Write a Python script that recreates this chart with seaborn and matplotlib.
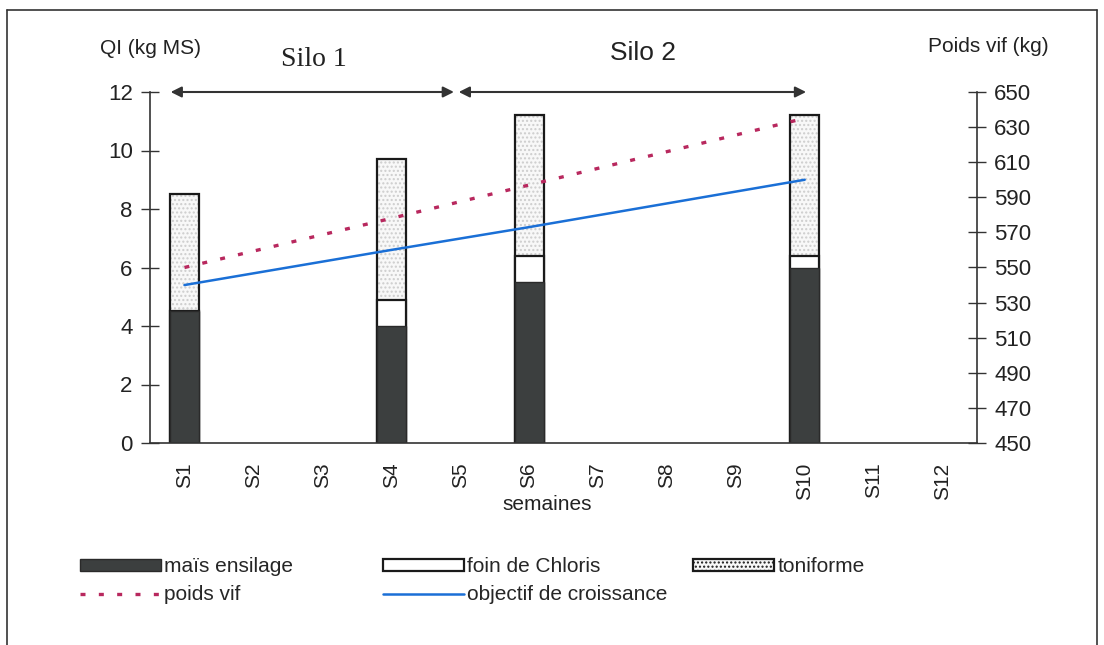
import matplotlib
matplotlib.use("Agg")
import matplotlib.pyplot as plt
import seaborn as sns
import numpy as np
import pandas as pd
from matplotlib.patches import Patch
from matplotlib.lines import Line2D
from matplotlib.legend_handler import HandlerBase

sns.set_theme(style="white")
plt.rcParams['font.family'] = ['Liberation Sans', 'DejaVu Sans']

weeks = ["S1", "S2", "S3", "S4", "S5", "S6", "S7", "S8", "S9", "S10", "S11", "S12"]
mais = [4.5, 0, 0, 4.0, 0, 5.5, 0, 0, 0, 6.0, 0, 0]
foin = [0, 0, 0, 0.9, 0, 0.9, 0, 0, 0, 0.4, 0, 0]
toniforme = [4.0, 0, 0, 4.8, 0, 4.8, 0, 0, 0, 4.8, 0, 0]
poids_weeks = ["S1", "S4", "S6", "S10"]
poids_vif = [550, 578, 597, 635]
objectif = [540, 560, 573, 600]
left_ticks = [0, 2, 4, 6, 8, 10, 12]
right_ticks = [450, 470, 490, 510, 530, 550, 570, 590, 610, 630, 650]

FS = 15
FT = 16
DARK = "#3c3f3f"
HATCH_GREY = "#cdcdcd"
fig = plt.figure(figsize=(11.04, 6.45), dpi=100)
ax = fig.add_axes([150/1104, 1-443/645, (977-150)/1104, (443-92)/645])

df = pd.DataFrame({"week": weeks, "mais": mais, "foin": foin, "toniforme": toniforme})
df["b1"] = df["mais"]
df["b2"] = df["mais"] + df["foin"]
df["b3"] = df["b2"] + df["toniforme"]

W = 0.42
# toniforme: light dotted fill (hatch drawn in light grey via edge colour), then black outline
sns.barplot(data=df, x="week", y="b3", ax=ax, color="#f8f8f8", width=W,
            edgecolor=HATCH_GREY, linewidth=0, hatch="....", saturation=1)
sns.barplot(data=df, x="week", y="b3", ax=ax, color="#1a1a1a", width=W,
            fill=False, linewidth=1.6)
sns.barplot(data=df, x="week", y="b2", ax=ax, color="white", width=W,
            edgecolor="#1a1a1a", linewidth=1.6, saturation=1)
sns.barplot(data=df, x="week", y="b1", ax=ax, color=DARK, width=W,
            edgecolor="#2a2a2a", linewidth=1.0, saturation=1)
for p in ax.patches:
    if p.get_height() == 0:
        p.set_visible(False)

ax.set_xlim(-0.5, 11.5)
ax.set_ylim(0, 12)
ax.set_yticks(left_ticks)
ax.set_yticklabels([str(t) for t in left_ticks], fontsize=FT)
ax.set_xticks(range(len(weeks)))
ax.set_xticklabels(weeks, rotation=90, fontsize=FS)
ax.set_xticks(np.arange(-0.5, 12, 1), minor=True)
ax.tick_params(axis="x", which="major", length=0, pad=14, colors="#222222")
ax.tick_params(axis="x", which="minor", length=12, direction="inout", width=1, color="#333333")
ax.tick_params(axis="y", length=13, direction="inout", width=1, color="#333333", pad=6, colors="#222222")
ax.set_xlabel("")
ax.set_ylabel("")
for s in ["top", "right"]:
    ax.spines[s].set_visible(False)
for s in ["left", "bottom"]:
    ax.spines[s].set_color("#333333")
    ax.spines[s].set_linewidth(1.2)
ax.grid(False)

ax2 = ax.twinx()
ax2.set_ylim(450, 650)
ax2.set_yticks(right_ticks)
ax2.set_yticklabels([str(t) for t in right_ticks], fontsize=FT)
ax2.tick_params(axis="y", length=13, direction="inout", width=1, color="#333333", pad=6, colors="#222222")
for s in ["top", "left", "bottom"]:
    ax2.spines[s].set_visible(False)
ax2.spines["right"].set_color("#333333")
ax2.spines["right"].set_linewidth(1.2)
ax2.grid(False)

pos = {w: i for i, w in enumerate(weeks)}
ldf = pd.DataFrame({"x": [pos[w] for w in poids_weeks], "poids": poids_vif, "obj": objectif})
sns.lineplot(data=ldf, x="x", y="poids", ax=ax2, color="#b8285e", linewidth=2.4,
             linestyle=(0, (1.5, 4)))
sns.lineplot(data=ldf, x="x", y="obj", ax=ax2, color="#1a6fd6", linewidth=1.8)
ax2.set_xlabel("")
ax2.set_ylabel("")
ax2.set_xlim(-0.5, 11.5)

# Silo arrows
arrow_kw = dict(arrowstyle="<|-|>", color="#333333", lw=1.5, mutation_scale=16,
                shrinkA=0, shrinkB=0)
ax.annotate("", xy=(-0.2, 12), xytext=(3.91, 12), xycoords="data",
            arrowprops=arrow_kw, annotation_clip=False)
ax.annotate("", xy=(3.98, 12), xytext=(9.02, 12), xycoords="data",
            arrowprops=arrow_kw, annotation_clip=False)
ax.text(1.88, 1.093, "Silo 1", transform=ax.get_xaxis_transform(), ha="center", va="center",
        fontsize=20, family=["Liberation Serif", "DejaVu Serif"], color="#222222")
ax.text(6.66, 1.11, "Silo 2", transform=ax.get_xaxis_transform(), ha="center", va="center",
        fontsize=19, color="#222222")

fig.text(150/1104, 1-48/645, "QI (kg MS)", ha="center", va="center", fontsize=FS, color="#222222")
fig.text(988/1104, 1-47/645, "Poids vif (kg)", ha="center", va="center", fontsize=FS, color="#222222")
fig.text(547/1104, 1-505/645, "semaines", ha="center", va="center", fontsize=FS, color="#222222")

# legends
h_mais = Patch(facecolor=DARK, edgecolor="#2a2a2a", label="maïs ensilage")
h_poids = Line2D([], [], color="#b8285e", lw=2.4, linestyle=(0, (1.5, 4)), label="poids vif")
h_foin = Patch(facecolor="white", edgecolor="#1a1a1a", linewidth=1.6, label="foin de Chloris")
h_obj = Line2D([], [], color="#1a6fd6", lw=1.8, label="objectif de croissance")
h_ton = Patch(facecolor="#f8f8f8", edgecolor="#1a1a1a", linewidth=1.6, hatch="....", label="toniforme")
leg_kw = dict(frameon=False, fontsize=FS, handlelength=3.9, handleheight=0.5,
              handletextpad=0.15, labelspacing=0.45, borderpad=0, borderaxespad=0,
              loc="upper left")
fig.legend(handles=[h_mais, h_poids], bbox_to_anchor=(80/1104, 1-557/645), **leg_kw)
fig.legend(handles=[h_foin, h_obj], bbox_to_anchor=(383/1104, 1-557/645), **leg_kw)
leg3 = fig.legend(handles=[h_ton], bbox_to_anchor=(693/1104, 1-557/645), **leg_kw)

# frame around the figure
for xs, ys in [((7, 7), (10, 645)), ((7, 1097), (10, 10)), ((1097, 1097), (10, 645))]:
    fig.add_artist(Line2D([x/1104 for x in xs], [1-y/645 for y in ys],
                          transform=fig.transFigure, color="#333333", lw=1.2))

fig.savefig("out.png", dpi=100, facecolor="white")
